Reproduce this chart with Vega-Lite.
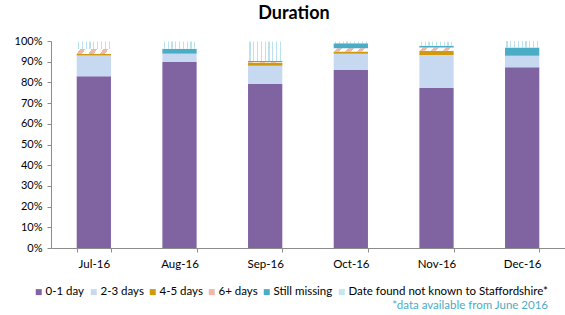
{
  "$schema": "https://vega.github.io/schema/vega-lite/v6.json",
  "width": 514,
  "height": 207,
  "autosize": {"type": "none"},
  "padding": {"left": 51, "top": 41, "right": 0, "bottom": 67},
  "background": "white",
  "config": {"font": "Lato", "view": {"stroke": null}},
  "title": {"text": "Duration", "fontSize": 18, "fontWeight": "bold", "color": "#000000", "anchor": "middle", "dx": -14, "offset": 12, "font": "Lato"},
  "data": {"values": [
    {"month": "Jul-16", "cat": "0-1 day", "value": 83},
    {"month": "Jul-16", "cat": "2-3 days", "value": 10},
    {"month": "Jul-16", "cat": "4-5 days", "value": 0.7},
    {"month": "Jul-16", "cat": "6+ days", "value": 2.4},
    {"month": "Jul-16", "cat": "Still missing", "value": 0},
    {"month": "Jul-16", "cat": "Date found not known to Staffordshire*", "value": 3.6},
    {"month": "Aug-16", "cat": "0-1 day", "value": 89.8},
    {"month": "Aug-16", "cat": "2-3 days", "value": 4},
    {"month": "Aug-16", "cat": "4-5 days", "value": 0.4},
    {"month": "Aug-16", "cat": "6+ days", "value": 0},
    {"month": "Aug-16", "cat": "Still missing", "value": 2.1},
    {"month": "Aug-16", "cat": "Date found not known to Staffordshire*", "value": 3.5},
    {"month": "Sep-16", "cat": "0-1 day", "value": 79.2},
    {"month": "Sep-16", "cat": "2-3 days", "value": 8.8},
    {"month": "Sep-16", "cat": "4-5 days", "value": 1.6},
    {"month": "Sep-16", "cat": "6+ days", "value": 0.3},
    {"month": "Sep-16", "cat": "Still missing", "value": 0.4},
    {"month": "Sep-16", "cat": "Date found not known to Staffordshire*", "value": 9.5},
    {"month": "Oct-16", "cat": "0-1 day", "value": 86},
    {"month": "Oct-16", "cat": "2-3 days", "value": 7.9},
    {"month": "Oct-16", "cat": "4-5 days", "value": 1},
    {"month": "Oct-16", "cat": "6+ days", "value": 1.6},
    {"month": "Oct-16", "cat": "Still missing", "value": 2.4},
    {"month": "Oct-16", "cat": "Date found not known to Staffordshire*", "value": 0.8},
    {"month": "Nov-16", "cat": "0-1 day", "value": 77.3},
    {"month": "Nov-16", "cat": "2-3 days", "value": 15.9},
    {"month": "Nov-16", "cat": "4-5 days", "value": 2.1},
    {"month": "Nov-16", "cat": "6+ days", "value": 1.6},
    {"month": "Nov-16", "cat": "Still missing", "value": 0.8},
    {"month": "Nov-16", "cat": "Date found not known to Staffordshire*", "value": 1.9},
    {"month": "Dec-16", "cat": "0-1 day", "value": 87.3},
    {"month": "Dec-16", "cat": "2-3 days", "value": 5.6},
    {"month": "Dec-16", "cat": "4-5 days", "value": 0},
    {"month": "Dec-16", "cat": "6+ days", "value": 0},
    {"month": "Dec-16", "cat": "Still missing", "value": 3.9},
    {"month": "Dec-16", "cat": "Date found not known to Staffordshire*", "value": 3.2}
  ]},
  "transform": [
    {"calculate": "indexof(['0-1 day', '2-3 days', '4-5 days', '6+ days', 'Still missing', 'Date found not known to Staffordshire*'], datum.cat)", "as": "rank"}
  ],
  "mark": {"type": "bar"},
  "encoding": {
    "x": {
      "field": "month", "type": "nominal",
      "sort": ["Jul-16", "Aug-16", "Sep-16", "Oct-16", "Nov-16", "Dec-16"],
      "scale": {"paddingInner": 0.6, "paddingOuter": 0.3},
      "axis": {"title": null, "labelAngle": 0, "tickBand": "extent", "domainColor": "#8c8c8c", "tickColor": "#8c8c8c", "tickSize": 4, "labelPadding": 6, "labelFontSize": 11.5, "labelColor": "#000000", "labelFont": "Lato"}
    },
    "y": {
      "field": "value", "type": "quantitative", "stack": "zero",
      "scale": {"domain": [0, 100], "nice": false},
      "axis": {"title": null, "values": [0, 10, 20, 30, 40, 50, 60, 70, 80, 90, 100], "labelExpr": "datum.value + '%'", "grid": false, "domainColor": "#8c8c8c", "tickColor": "#8c8c8c", "tickSize": 4, "labelPadding": 5, "labelFontSize": 11, "labelColor": "#000000", "labelFont": "Lato"}
    },
    "order": {"field": "rank", "type": "quantitative", "sort": "ascending"},
    "color": {
      "condition": [
        {"test": "datum.cat === '6+ days'", "value": {"gradient": "linear", "x1": 0, "y1": 0, "x2": 1, "y2": 0.1, "stops": [
          {"offset": 0, "color": "#ffffff"}, {"offset": 0.1, "color": "#ffffff"}, {"offset": 0.1, "color": "#f0b6a8"}, {"offset": 0.25, "color": "#f0b6a8"}, {"offset": 0.25, "color": "#ffffff"},
          {"offset": 0.433, "color": "#ffffff"}, {"offset": 0.433, "color": "#f0b6a8"}, {"offset": 0.583, "color": "#f0b6a8"}, {"offset": 0.583, "color": "#ffffff"},
          {"offset": 0.766, "color": "#ffffff"}, {"offset": 0.766, "color": "#f0b6a8"}, {"offset": 0.916, "color": "#f0b6a8"}, {"offset": 0.916, "color": "#ffffff"}, {"offset": 1, "color": "#ffffff"}
        ]}},
        {"test": "datum.cat === 'Date found not known to Staffordshire*'", "value": {"gradient": "linear", "x1": 0, "y1": 0, "x2": 1, "y2": 0, "stops": [
          {"offset": 0, "color": "#ffffff"},
          {"offset": 0.04, "color": "#ffffff"}, {"offset": 0.04, "color": "#bde2ef"}, {"offset": 0.075, "color": "#bde2ef"}, {"offset": 0.075, "color": "#ffffff"},
          {"offset": 0.151, "color": "#ffffff"}, {"offset": 0.151, "color": "#bde2ef"}, {"offset": 0.186, "color": "#bde2ef"}, {"offset": 0.186, "color": "#ffffff"},
          {"offset": 0.262, "color": "#ffffff"}, {"offset": 0.262, "color": "#bde2ef"}, {"offset": 0.297, "color": "#bde2ef"}, {"offset": 0.297, "color": "#ffffff"},
          {"offset": 0.373, "color": "#ffffff"}, {"offset": 0.373, "color": "#bde2ef"}, {"offset": 0.408, "color": "#bde2ef"}, {"offset": 0.408, "color": "#ffffff"},
          {"offset": 0.484, "color": "#ffffff"}, {"offset": 0.484, "color": "#bde2ef"}, {"offset": 0.519, "color": "#bde2ef"}, {"offset": 0.519, "color": "#ffffff"},
          {"offset": 0.596, "color": "#ffffff"}, {"offset": 0.596, "color": "#bde2ef"}, {"offset": 0.631, "color": "#bde2ef"}, {"offset": 0.631, "color": "#ffffff"},
          {"offset": 0.707, "color": "#ffffff"}, {"offset": 0.707, "color": "#bde2ef"}, {"offset": 0.742, "color": "#bde2ef"}, {"offset": 0.742, "color": "#ffffff"},
          {"offset": 0.818, "color": "#ffffff"}, {"offset": 0.818, "color": "#bde2ef"}, {"offset": 0.853, "color": "#bde2ef"}, {"offset": 0.853, "color": "#ffffff"},
          {"offset": 0.929, "color": "#ffffff"}, {"offset": 0.929, "color": "#bde2ef"}, {"offset": 0.964, "color": "#bde2ef"}, {"offset": 0.964, "color": "#ffffff"},
          {"offset": 1, "color": "#ffffff"}
        ]}}
      ],
      "field": "cat", "type": "nominal",
      "sort": ["0-1 day", "2-3 days", "4-5 days", "6+ days", "Still missing", "Date found not known to Staffordshire*"],
      "scale": {
        "domain": ["0-1 day", "2-3 days", "4-5 days", "6+ days", "Still missing", "Date found not known to Staffordshire*"],
        "range": ["#8064a2", "#c6d9f1", "#cf9a0b", "#f0b7a8", "#4bacc6", "#c4e5f1"]
      },
      "legend": {
        "orient": "none", "legendX": -18, "legendY": 245, "direction": "horizontal",
        "title": "*data available from June 2016", "titleOrient": "bottom", "titleAnchor": "end",
        "titleColor": "#4bacc6", "titleFontWeight": "normal", "titleFontSize": 11.5, "titleFont": "Lato", "titlePadding": 2,
        "symbolType": "square", "symbolSize": 36, "symbolStrokeWidth": 0,
        "labelFontSize": 11.5, "labelFont": "Lato", "labelColor": "#000000", "labelOffset": 1, "labelLimit": 0, "columnPadding": 3
      }
    }
  }
}
